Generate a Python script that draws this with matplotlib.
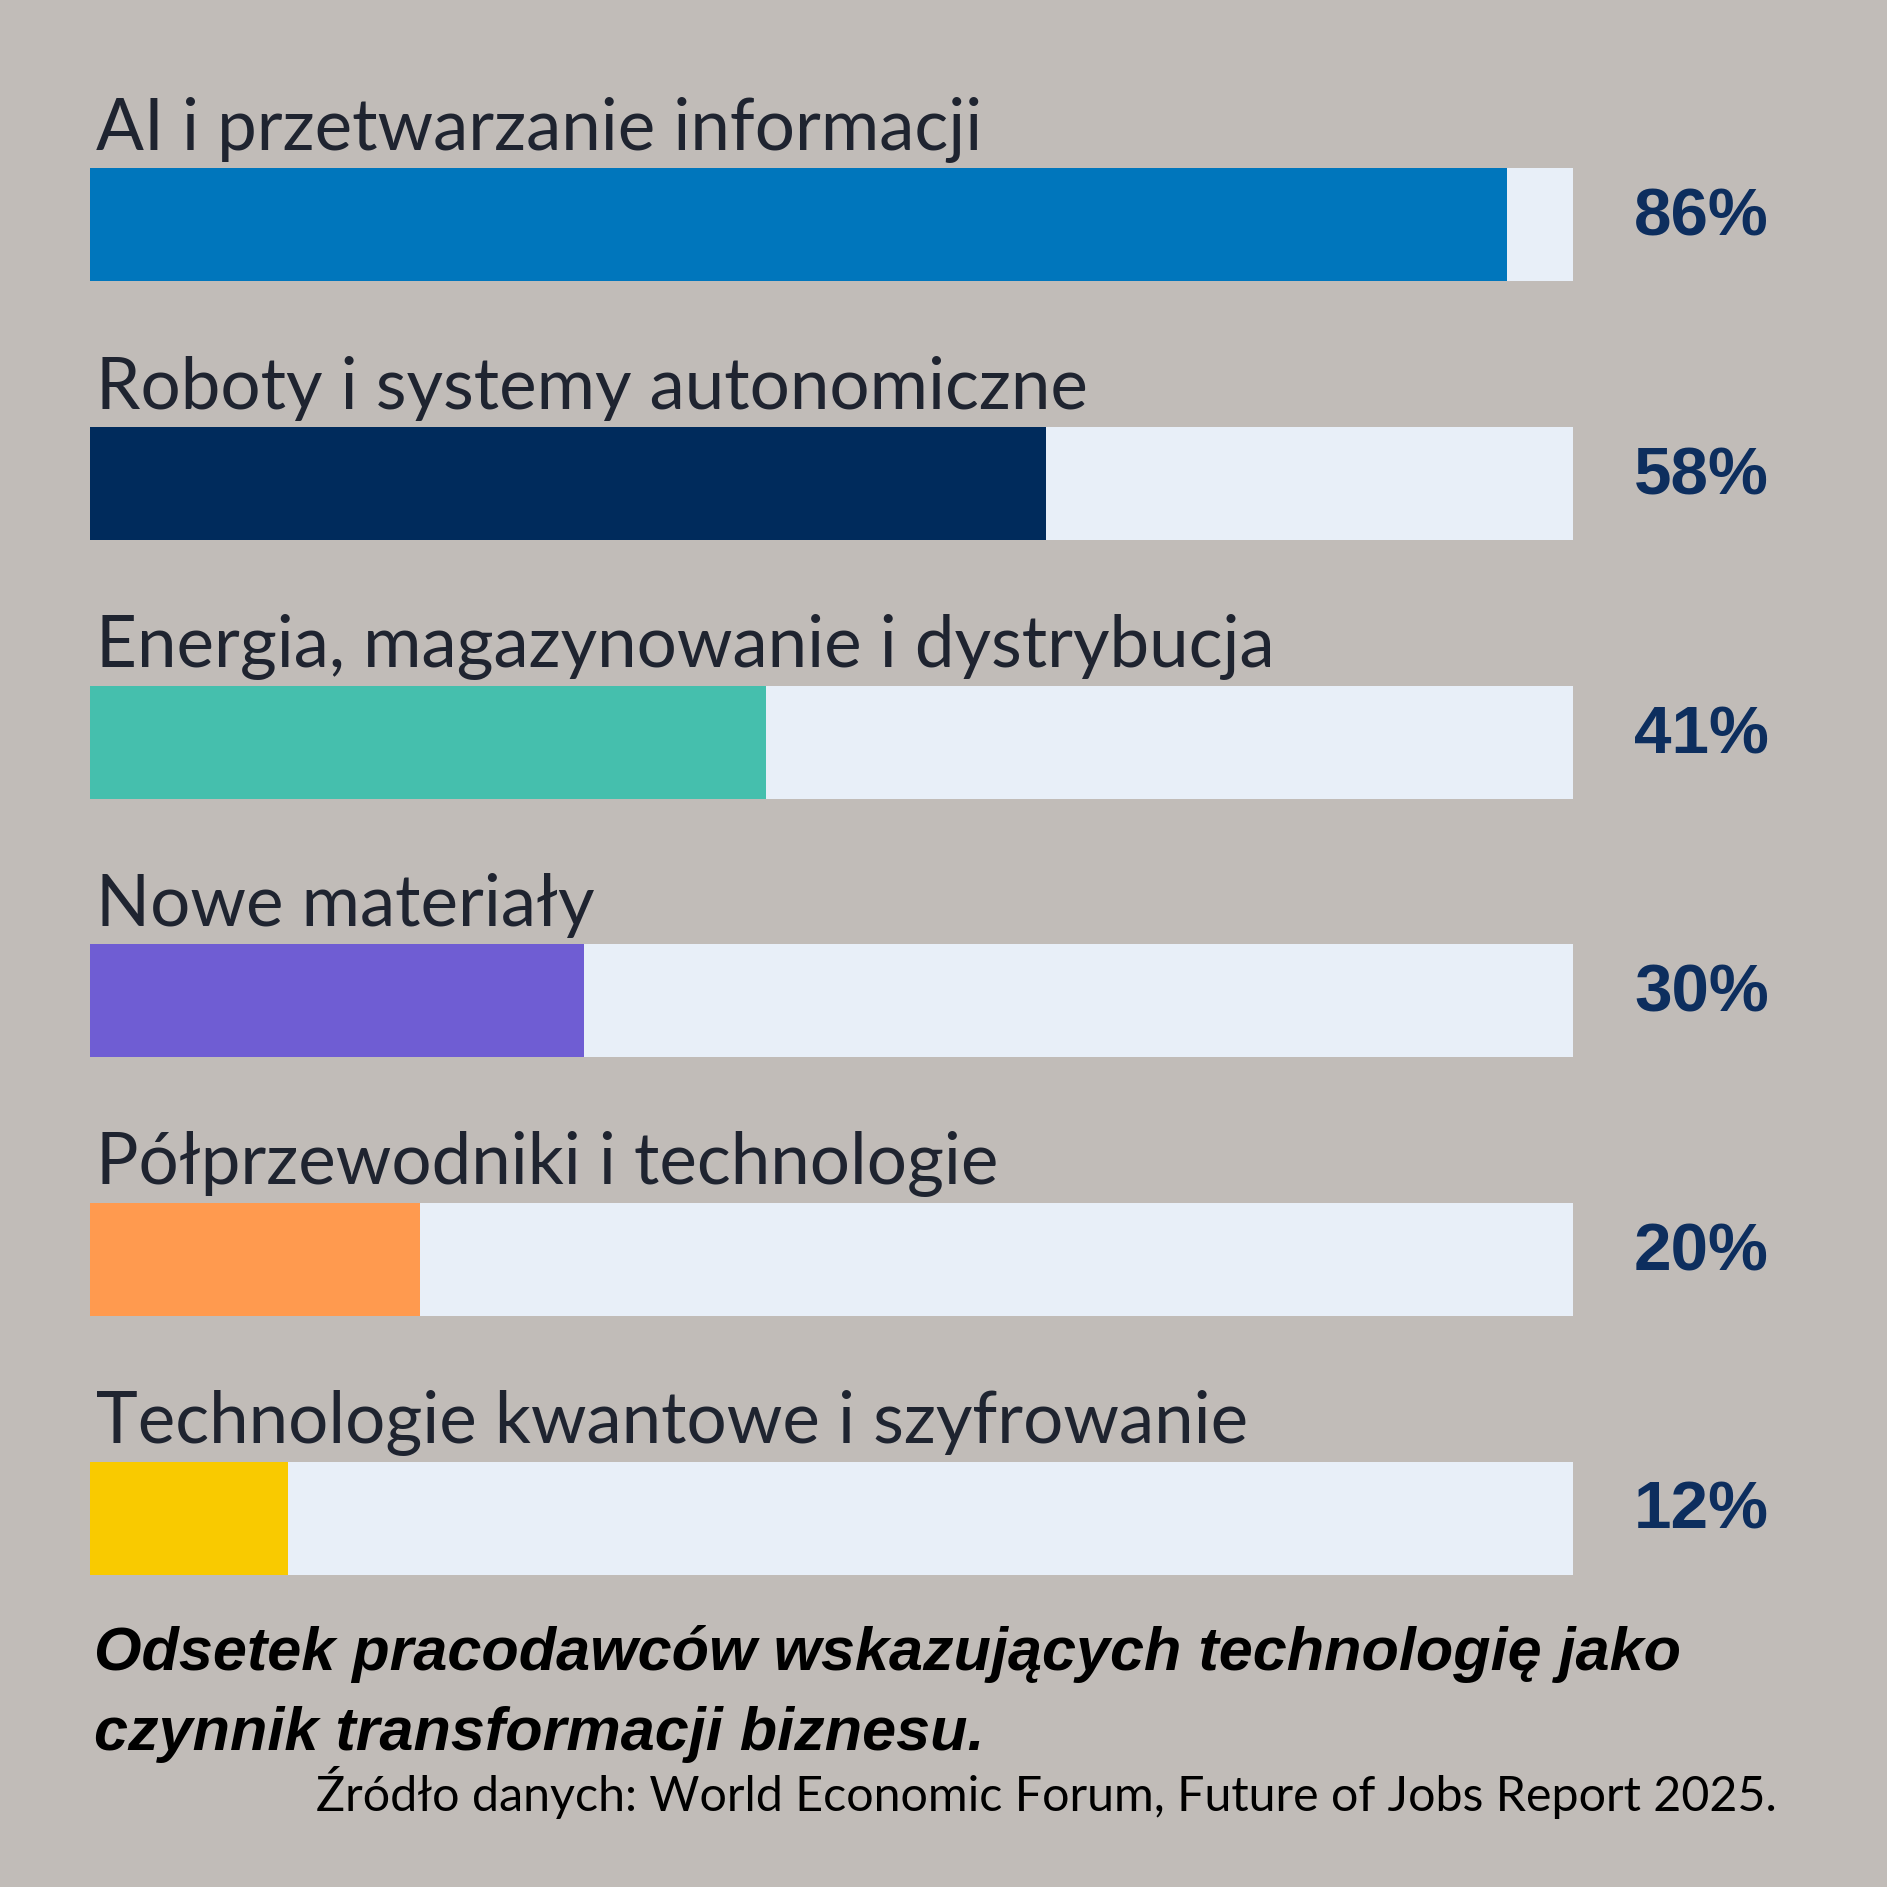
import matplotlib
matplotlib.use("Agg")
import matplotlib.pyplot as plt

# data
categories = [
    "AI i przetwarzanie informacji",
    "Roboty i systemy autonomiczne",
    "Energia, magazynowanie i dystrybucja",
    "Nowe materiały",
    "Półprzewodniki i technologie",
    "Technologie kwantowe i szyfrowanie",
]
values = [86, 58, 41, 30, 20, 12]
colors = ["#0076BC", "#002B5C", "#45BFAD", "#6F5DD3", "#FF9A4F", "#F9CA00"]
track_max = 90  # full light track corresponds to ~90%

bg = "#C1BCB8"
track_color = "#E8EFF8"
label_color = "#1F2430"
pct_color = "#0D2E5E"

plt.rcParams['font.family'] = ['Lato', 'DejaVu Sans']
bold_font = ['Liberation Sans', 'DejaVu Sans']

fig = plt.figure(figsize=(18.87, 18.87), dpi=100)
fig.patch.set_facecolor(bg)

ax = fig.add_axes([0.0477, 0.127, 0.7859, 0.8223])
ax.set_facecolor(bg)

y = list(range(len(categories)))
ax.barh(y, [track_max] * len(y), height=0.437, color=track_color, zorder=1)
ax.barh(y, values, height=0.437, color=colors, zorder=2)

for i, (cat, v) in enumerate(zip(categories, values)):
    ax.text(0.35, i - 0.29, cat, fontsize=51, color=label_color,
            va='baseline', ha='left')
    ax.text(93.7, i + 0.042, f"{v}%", fontsize=48.5, fontweight='bold',
            family=bold_font, color=pct_color,
            va='baseline', ha='left', clip_on=False)

ax.set_xlim(0, track_max)
ax.set_ylim(5.5, -0.5)
ax.axis('off')

fig.text(0.0497, 1 - 1670 / 1887, "Odsetek pracodawców wskazujących technologię jako",
         fontsize=44, fontweight='bold', fontstyle='italic', family=bold_font,
         color='black', va='baseline', ha='left')
fig.text(0.0497, 1 - 1750 / 1887, "czynnik transformacji biznesu.",
         fontsize=44, fontweight='bold', fontstyle='italic', family=bold_font,
         color='black', va='baseline', ha='left')
fig.text(0.9417, 1 - 1811 / 1887,
         "Źródło danych: World Economic Forum, Future of Jobs Report 2025.",
         fontsize=34.8, color='black', va='baseline', ha='right')

fig.savefig("out.png", dpi=100, facecolor=bg)
